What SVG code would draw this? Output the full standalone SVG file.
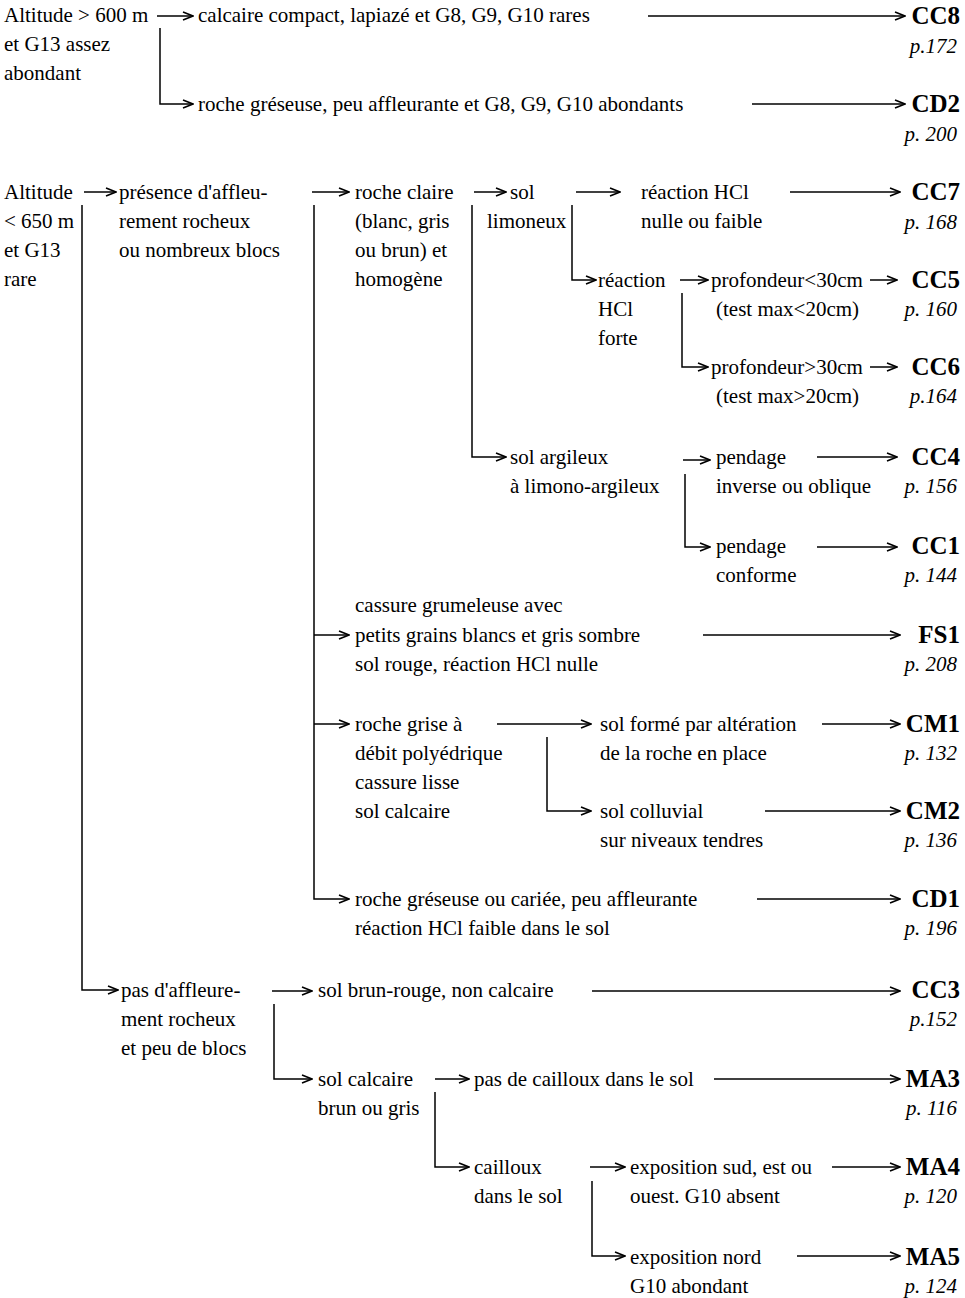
<svg xmlns="http://www.w3.org/2000/svg" width="965" height="1298" viewBox="0 0 965 1298">
<style>
text{font-family:"Liberation Serif","Times New Roman",serif;font-size:21px;fill:#000}
.c{font-weight:bold;font-size:25px;text-anchor:end}
.p{font-style:italic;text-anchor:end}
.ln{fill:none;stroke:#000;stroke-width:1.5;marker-end:url(#ah)}
</style>
<defs>
<marker id="ah" viewBox="0 0 12 10" refX="11" refY="5" markerWidth="12" markerHeight="10" markerUnits="userSpaceOnUse" orient="auto">
<path d="M1,1 L11,5 L1,9" fill="none" stroke="#000" stroke-width="1.6"/>
</marker>
</defs>
<rect width="965" height="1298" fill="#fff"/>
<g id="connectors">
<path class="ln" d="M157,16 H193"/>
<path class="ln" d="M160,28 V104 H193"/>
<path class="ln" d="M648,16 H905"/>
<path class="ln" d="M752,104 H905"/>
<path class="ln" d="M84,192 H116"/>
<path class="ln" d="M82,205 V990 H118"/>
<path class="ln" d="M312,192 H349"/>
<path class="ln" d="M314,205 V899 H349"/>
<path class="ln" d="M314,635 H349"/>
<path class="ln" d="M314,724 H349"/>
<path class="ln" d="M474,192 H506"/>
<path class="ln" d="M472,205 V457 H506"/>
<path class="ln" d="M576,192 H620"/>
<path class="ln" d="M572,205 V280 H596"/>
<path class="ln" d="M790,192 H900"/>
<path class="ln" d="M680,280 H708"/>
<path class="ln" d="M682,293 V367 H708"/>
<path class="ln" d="M870,280 H897"/>
<path class="ln" d="M870,367 H897"/>
<path class="ln" d="M683,460 H710"/>
<path class="ln" d="M685,474 V547 H710"/>
<path class="ln" d="M817,457 H897"/>
<path class="ln" d="M817,547 H897"/>
<path class="ln" d="M703,635 H900"/>
<path class="ln" d="M497,724 H591"/>
<path class="ln" d="M547,737 V811 H591"/>
<path class="ln" d="M822,724 H900"/>
<path class="ln" d="M765,811 H900"/>
<path class="ln" d="M757,899 H900"/>
<path class="ln" d="M272,991 H312"/>
<path class="ln" d="M274,1004 V1079 H312"/>
<path class="ln" d="M592,991 H900"/>
<path class="ln" d="M435,1079 H469"/>
<path class="ln" d="M435,1092 V1167 H469"/>
<path class="ln" d="M714,1079 H900"/>
<path class="ln" d="M590,1167 H625"/>
<path class="ln" d="M592,1181 V1256 H625"/>
<path class="ln" d="M832,1167 H900"/>
<path class="ln" d="M797,1256 H900"/>
</g>
<g id="n-alt600"><text x="4" y="22">Altitude &gt; 600 m</text><text x="4" y="51">et G13 assez</text><text x="4" y="80">abondant</text></g>
<g id="n-calcaire"><text x="198" y="22">calcaire compact, lapiazé et G8, G9, G10 rares</text></g>
<g id="n-gres1"><text x="198" y="111">roche gréseuse, peu affleurante et G8, G9, G10 abondants</text></g>
<g id="r-cc8"><text class="c" x="960" y="24">CC8</text><text class="p" x="957" y="53">p.172</text></g>
<g id="r-cd2"><text class="c" x="960" y="112">CD2</text><text class="p" x="957" y="141">p. 200</text></g>
<g id="n-alt650"><text x="4" y="199">Altitude</text><text x="4" y="228">&lt; 650 m</text><text x="4" y="257">et G13</text><text x="4" y="286">rare</text></g>
<g id="n-presence"><text x="119" y="199">présence d'affleu-</text><text x="119" y="228">rement rocheux</text><text x="119" y="257">ou nombreux blocs</text></g>
<g id="n-claire"><text x="355" y="199">roche claire</text><text x="355" y="228">(blanc, gris</text><text x="355" y="257">ou brun) et</text><text x="355" y="286">homogène</text></g>
<g id="n-limoneux"><text x="510" y="199">sol</text><text x="487" y="228">limoneux</text></g>
<g id="n-hclnulle"><text x="641" y="199">réaction HCl</text><text x="641" y="228">nulle ou faible</text></g>
<g id="r-cc7"><text class="c" x="960" y="200">CC7</text><text class="p" x="957" y="229">p. 168</text></g>
<g id="n-hclforte"><text x="598" y="287">réaction</text><text x="598" y="316">HCl</text><text x="598" y="345">forte</text></g>
<g id="n-prof30a"><text x="711" y="287">profondeur&lt;30cm</text><text x="716" y="316">(test max&lt;20cm)</text></g>
<g id="r-cc5"><text class="c" x="960" y="288">CC5</text><text class="p" x="957" y="316">p. 160</text></g>
<g id="n-prof30b"><text x="711" y="374">profondeur&gt;30cm</text><text x="716" y="403">(test max&gt;20cm)</text></g>
<g id="r-cc6"><text class="c" x="960" y="375">CC6</text><text class="p" x="957" y="403">p.164</text></g>
<g id="n-argileux"><text x="510" y="464">sol argileux</text><text x="510" y="493">à limono-argileux</text></g>
<g id="n-pendinv"><text x="716" y="464">pendage</text><text x="716" y="493">inverse ou oblique</text></g>
<g id="r-cc4"><text class="c" x="960" y="465">CC4</text><text class="p" x="957" y="493">p. 156</text></g>
<g id="n-pendconf"><text x="716" y="553">pendage</text><text x="716" y="582">conforme</text></g>
<g id="r-cc1"><text class="c" x="960" y="554">CC1</text><text class="p" x="957" y="582">p. 144</text></g>
<g id="n-grumeleuse"><text x="355" y="612">cassure grumeleuse avec</text><text x="355" y="642">petits grains blancs et gris sombre</text><text x="355" y="671">sol rouge, réaction HCl nulle</text></g>
<g id="r-fs1"><text class="c" x="960" y="643">FS1</text><text class="p" x="957" y="671">p. 208</text></g>
<g id="n-grise"><text x="355" y="731">roche grise à</text><text x="355" y="760">débit polyédrique</text><text x="355" y="789">cassure lisse</text><text x="355" y="818">sol calcaire</text></g>
<g id="n-altere"><text x="600" y="731">sol formé par altération</text><text x="600" y="760">de la roche en place</text></g>
<g id="r-cm1"><text class="c" x="960" y="732">CM1</text><text class="p" x="957" y="760">p. 132</text></g>
<g id="n-colluvial"><text x="600" y="818">sol colluvial</text><text x="600" y="847">sur niveaux tendres</text></g>
<g id="r-cm2"><text class="c" x="960" y="819">CM2</text><text class="p" x="957" y="847">p. 136</text></g>
<g id="n-gres2"><text x="355" y="906">roche gréseuse ou cariée, peu affleurante</text><text x="355" y="935">réaction HCl faible dans le sol</text></g>
<g id="r-cd1"><text class="c" x="960" y="907">CD1</text><text class="p" x="957" y="935">p. 196</text></g>
<g id="n-pasaffl"><text x="121" y="997">pas d'affleure-</text><text x="121" y="1026">ment rocheux</text><text x="121" y="1055">et peu de blocs</text></g>
<g id="n-brunrouge"><text x="318" y="997">sol brun-rouge, non calcaire</text></g>
<g id="r-cc3"><text class="c" x="960" y="998">CC3</text><text class="p" x="957" y="1026">p.152</text></g>
<g id="n-solcalc"><text x="318" y="1086">sol calcaire</text><text x="318" y="1115">brun ou gris</text></g>
<g id="n-pascaill"><text x="474" y="1086">pas de cailloux dans le sol</text></g>
<g id="r-ma3"><text class="c" x="960" y="1087">MA3</text><text class="p" x="957" y="1115">p. 116</text></g>
<g id="n-cailloux"><text x="474" y="1174">cailloux</text><text x="474" y="1203">dans le sol</text></g>
<g id="n-expsud"><text x="630" y="1174">exposition sud, est ou</text><text x="630" y="1203">ouest. G10 absent</text></g>
<g id="r-ma4"><text class="c" x="960" y="1175">MA4</text><text class="p" x="957" y="1203">p. 120</text></g>
<g id="n-expnord"><text x="630" y="1264">exposition nord</text><text x="630" y="1293">G10 abondant</text></g>
<g id="r-ma5"><text class="c" x="960" y="1265">MA5</text><text class="p" x="957" y="1293">p. 124</text></g>
</svg>
